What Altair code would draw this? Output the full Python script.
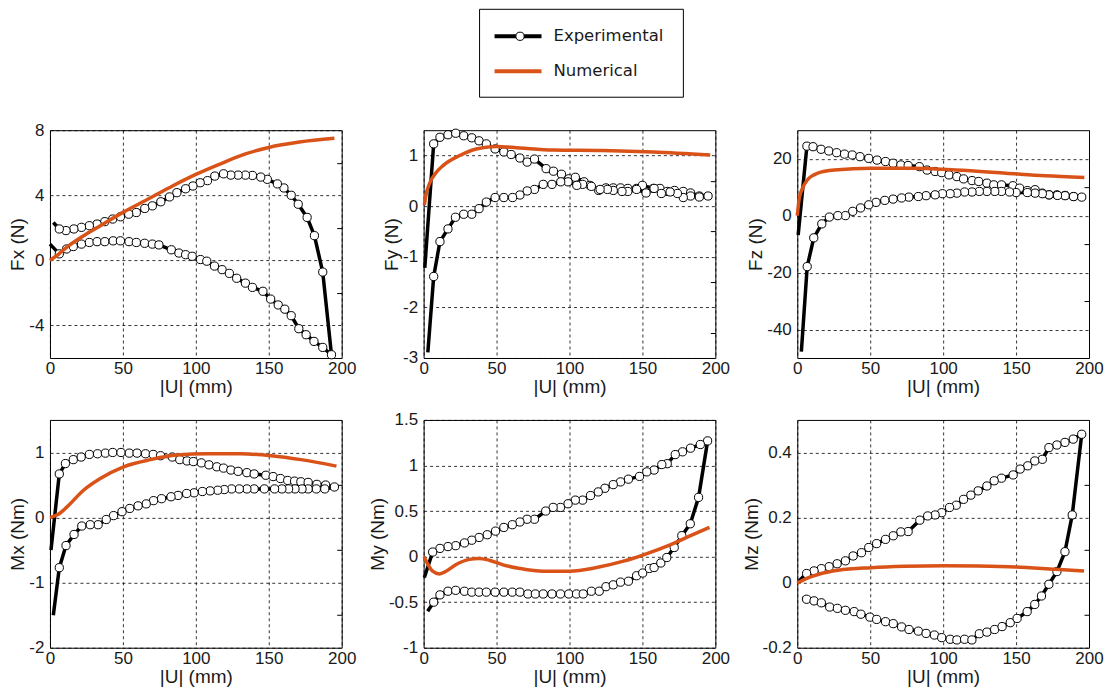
import altair as alt
import pandas as pd

X_LABEL = "|U| (mm)"
X_TICKS = [0, 50, 100, 150, 200]
SERIES = ["Experimental", "Numerical"]
COLORS = ["#000000", "#D95319"]

# ---------------- Fx ----------------
FX_OUT_START = [0.0, 1.0]
FX_OUT_X = [6.4, 11.4, 16.0, 21.6, 27.0, 32.3, 37.6, 43.3, 48.3, 54.2, 59.2, 64.9, 70.2, 74.7, 83.2, 88.4,
            93.0, 97.5, 103.2, 107.5, 112.8, 118.0, 123.0, 128.0, 134.0, 138.8, 146.0, 151.3, 156.5, 161.0,
            165.4, 170.6, 175.6, 181.0, 187.0, 193.0]
FX_OUT_Y = [0.4, 0.7, 0.85, 1.0, 1.1, 1.15, 1.15, 1.2, 1.2, 1.15, 1.1, 1.05, 1.0, 0.95, 0.65, 0.45,
            0.35, 0.25, 0.05, -0.05, -0.35, -0.57, -0.8, -1.1, -1.4, -1.66, -1.9, -2.38, -2.74, -3.0,
            -3.4, -4.2, -4.57, -4.98, -5.35, -5.8]
FX_BACK_X = [6.4, 11.0, 16.4, 21.6, 27.0, 32.3, 37.6, 43.0, 48.3, 54.0, 59.2, 65.0, 70.2, 76.0, 82.0, 87.0,
             93.0, 98.0, 103.0, 108.0, 113.0, 119.0, 124.0, 129.0, 134.0, 138.8, 144.5, 149.0, 155.9, 160.4,
             165.4, 170.2, 176.3, 181.3, 187.0]
FX_BACK_Y = [1.93, 1.83, 1.93, 2.03, 2.13, 2.23, 2.38, 2.54, 2.68, 2.84, 2.94, 3.19, 3.35, 3.6, 3.9, 4.16,
             4.4, 4.57, 4.77, 4.9, 5.18, 5.32, 5.24, 5.24, 5.24, 5.22, 5.12, 4.98, 4.7, 4.45,
             4.0, 3.45, 2.64, 1.52, -0.72]
FX_BACK_START = [2.3, 2.33]
FX_NUM_X = [0, 6.4, 11.4, 22.8, 34, 50, 68, 84, 100, 116, 134, 150, 171, 195]
FX_NUM_Y = [0, 0.42, 0.8, 1.5, 2.1, 2.95, 3.8, 4.57, 5.28, 5.9, 6.54, 6.94, 7.27, 7.5]

# ---------------- Fy ----------------
FY_OUT_START = [0.8, -1.22]
FY_OUT_X = [6.9, 11.2, 16.7, 22.0, 27.5, 33.0, 38.0, 43.0, 49.0, 55.0, 60.0, 66.0, 71.0, 76.0, 84.0, 89.0,
            94.5, 99.5, 104.0, 110.0, 114.0, 120.0, 125.0, 130.0, 135.0, 140.0, 146.0, 150.0, 157.5, 162.0,
            167.0, 172.0, 178.0, 183.0, 189.0, 195.0]
FY_OUT_Y = [1.23, 1.36, 1.41, 1.44, 1.39, 1.35, 1.29, 1.23, 1.13, 1.07, 1.02, 0.95, 0.87, 0.93, 0.74, 0.69,
            0.63, 0.54, 0.57, 0.48, 0.41, 0.31, 0.36, 0.36, 0.36, 0.35, 0.35, 0.41, 0.35, 0.35,
            0.29, 0.31, 0.29, 0.26, 0.2, 0.2]
FY_BACK_X = [6.9, 11.2, 16.7, 21.8, 27.5, 33.0, 38.0, 43.0, 49.0, 55.0, 61.0, 66.0, 71.0, 76.0, 82.0, 88.0,
             94.0, 99.0, 105.0, 109.0, 115.0, 121.0, 126.0, 130.0, 136.0, 140.0, 146.0, 152.5, 158.0, 163.0,
             169.0, 174.0, 178.0, 183.0, 189.0]
FY_BACK_Y = [-1.39, -0.7, -0.45, -0.22, -0.16, -0.16, -0.05, 0.08, 0.17, 0.17, 0.17, 0.22, 0.3, 0.33, 0.43, 0.43,
             0.48, 0.48, 0.41, 0.43, 0.39, 0.33, 0.33, 0.31, 0.29, 0.29, 0.33, 0.26, 0.35, 0.25,
             0.28, 0.25, 0.17, 0.2, 0.18]
FY_BACK_START = [2.9, -2.89]
FY_NUM_X = [0.5, 1.6, 4.1, 8.5, 13.3, 24.7, 36, 50, 66, 89, 123, 157.5, 196.5]
FY_NUM_Y = [0.02, 0.22, 0.45, 0.66, 0.8, 1.0, 1.13, 1.18, 1.15, 1.11, 1.1, 1.07, 1.01]

# ---------------- Fz ----------------
FZ_OUT_START = [0.6, -6.8]
FZ_OUT_X = [6.6, 10.8, 16.3, 21.6, 27.0, 32.4, 37.7, 43.0, 49.0, 54.7, 60.5, 65.7, 71.0, 76.0, 83.7, 89.0,
            94.5, 99.0, 104.0, 109.4, 114.0, 119.8, 124.4, 130.0, 134.7, 140.0, 147.8, 152.4, 157.7, 163.0,
            168.0, 172.6, 178.0, 183.6, 189.4, 195.0]
FZ_OUT_Y = [24.4, 24.2, 23.3, 22.7, 22.1, 21.6, 21.3, 20.7, 20.1, 19.5, 19.0, 18.4, 17.8, 17.6, 17.2, 16.0,
            15.5, 15.1, 14.3, 13.7, 12.9, 12.3, 12.0, 11.4, 10.8, 10.8, 10.5, 9.65, 8.8, 9.1,
            7.9, 7.3, 7.3, 7.1, 6.7, 6.5]
FZ_BACK_X = [6.8, 11.3, 16.8, 22.0, 27.8, 33.0, 38.0, 43.4, 49.0, 54.0, 60.0, 65.7, 71.5, 76.5, 83.0, 88.3,
             94.5, 99.5, 104.8, 109.4, 114.7, 119.8, 124.8, 130.0, 135.4, 140.0, 145.5, 150.0, 157.7, 163.0,
             168.0, 172.6, 178.4, 183.6, 189.4]
FZ_BACK_Y = [-17.9, -7.8, -2.9, -0.5, 0.0, 0.0, 1.5, 2.7, 3.8, 4.65, 5.35, 5.8, 6.2, 6.5, 6.7, 7.0,
             7.3, 7.7, 7.7, 7.9, 8.3, 8.3, 8.5, 8.5, 8.5, 8.5, 8.3, 8.1, 8.1, 7.9,
             7.7, 7.3, 7.1, 7.0, 6.7]
FZ_BACK_START = [2.8, -47.8]
FZ_NUM_X = [0, 1.4, 3.7, 7, 14, 25.5, 51, 78.6, 108.5, 143, 170, 196.8]
FZ_NUM_Y = [0, 6.2, 9.7, 12.6, 14.9, 16.0, 16.6, 16.6, 16.0, 14.9, 14.0, 13.4]

# ---------------- Mx ----------------
MX_OUT_START = [0.7, -0.5]
MX_OUT_X = [6.4, 10.6, 16.0, 21.4, 27.0, 32.6, 38.0, 43.0, 48.7, 54.4, 59.7, 65.5, 70.8, 75.8, 83.9, 89.0,
            94.0, 98.3, 103.8, 109.0, 114.4, 119.0, 124.0, 129.0, 135.0, 140.0, 148.0, 153.0, 158.0, 163.0,
            167.7, 172.0, 177.0, 183.0, 189.0, 195.0]
MX_OUT_Y = [0.67, 0.83, 0.89, 0.93, 0.97, 0.98, 0.99, 1.0, 1.0, 0.99, 0.99, 0.98, 0.97, 0.95, 0.93, 0.89,
            0.87, 0.86, 0.84, 0.81, 0.78, 0.76, 0.73, 0.71, 0.69, 0.67, 0.65, 0.63, 0.6, 0.57,
            0.56, 0.55, 0.54, 0.51, 0.5, 0.47]
MX_BACK_X = [6.4, 11.0, 16.5, 21.8, 27.6, 33.0, 38.6, 43.6, 49.4, 54.7, 60.4, 66.0, 71.0, 76.5, 83.0, 87.8,
             93.7, 98.8, 104.5, 109.8, 115.0, 119.5, 124.5, 129.8, 135.0, 140.0, 147.0, 154.0, 159.0, 163.6,
             168.0, 172.8, 177.0, 182.6, 188.4]
MX_BACK_Y = [-0.77, -0.43, -0.26, -0.13, -0.11, -0.11, -0.03, 0.03, 0.09, 0.14, 0.18, 0.21, 0.26, 0.29, 0.32, 0.34,
             0.37, 0.38, 0.4, 0.41, 0.42, 0.43, 0.44, 0.44, 0.44, 0.44, 0.44, 0.44, 0.44, 0.44,
             0.44, 0.44, 0.44, 0.44, 0.44]
MX_BACK_START = [2.3, -1.5]
MX_NUM_X = [0, 5.7, 11.5, 23, 34.5, 50.5, 69, 87, 108, 131, 151.6, 172, 196.4]
MX_NUM_Y = [0, 0.05, 0.16, 0.42, 0.6, 0.78, 0.89, 0.96, 0.98, 0.98, 0.95, 0.89, 0.79]

# ---------------- My ----------------
MY_OUT_START = [2.75, -0.6]
MY_OUT_X = [6.9, 11.2, 16.7, 22.0, 28.0, 33.0, 38.0, 43.0, 49.0, 55.0, 60.8, 66.0, 71.5, 76.6, 82.0, 88.0,
            93.8, 99.5, 104.8, 109.4, 115.0, 120.4, 125.0, 130.0, 135.0, 140.4, 146.0, 150.2, 154.8, 158.0,
            162.6, 166.7, 171.8, 177.0, 182.8, 188.5]
MY_OUT_Y = [-0.5, -0.42, -0.38, -0.37, -0.38, -0.39, -0.39, -0.39, -0.39, -0.39, -0.39, -0.39, -0.41, -0.41,
            -0.41, -0.41, -0.41, -0.41, -0.41, -0.41, -0.38, -0.38, -0.33, -0.31, -0.28, -0.27, -0.21, -0.18,
            -0.13, -0.12, -0.07, -0.01, 0.1, 0.23, 0.36, 0.65]
MY_BACK_X = [6.2, 11.2, 16.7, 22.0, 28.0, 33.0, 38.0, 43.6, 49.3, 55.0, 60.8, 66.0, 70.9, 76.0, 83.7, 88.8,
             93.8, 99.0, 104.0, 109.0, 114.4, 119.7, 124.3, 130.0, 135.0, 140.4, 148.0, 153.0, 158.0, 163.3,
             167.0, 172.5, 177.5, 183.0, 189.7, 194.7]
MY_BACK_Y = [0.05, 0.09, 0.11, 0.12, 0.15, 0.18, 0.21, 0.24, 0.28, 0.32, 0.35, 0.38, 0.41, 0.41, 0.5, 0.54,
             0.54, 0.58, 0.62, 0.62, 0.67, 0.71, 0.75, 0.79, 0.82, 0.85, 0.88, 0.93, 0.95, 1.01,
             1.02, 1.12, 1.15, 1.19, 1.23, 1.27]
MY_BACK_START = [0.5, -0.23]
MY_NUM_X = [0.3, 2.75, 6.2, 10.8, 15.4, 22, 31.4, 38, 45, 54.4, 66, 82, 100, 118.6, 137, 150.7, 169, 183, 196]
MY_NUM_Y = [0, -0.08, -0.16, -0.19, -0.16, -0.09, -0.03, -0.02, -0.04, -0.09, -0.13, -0.16, -0.16, -0.12,
            -0.05, 0.02, 0.13, 0.23, 0.32]

# ---------------- Mz ----------------
MZ_OUT_START = [3.4, -0.046]
MZ_OUT_X = [6.4, 11.5, 16.5, 22.2, 27.5, 33.0, 39.0, 43.6, 49.8, 54.4, 60.5, 65.8, 71.5, 76.6, 83.0, 88.3,
            94.0, 99.0, 104.8, 109.4, 114.7, 119.7, 124.8, 130.0, 135.3, 140.4, 146.0, 150.7, 157.6, 162.8,
            167.4, 172.5, 178.0, 183.5, 188.5]
MZ_OUT_Y = [-0.051, -0.056, -0.062, -0.075, -0.079, -0.085, -0.089, -0.097, -0.106, -0.113, -0.12, -0.126,
            -0.136, -0.144, -0.149, -0.156, -0.161, -0.169, -0.174, -0.176, -0.174, -0.176, -0.157, -0.152,
            -0.144, -0.135, -0.123, -0.11, -0.089, -0.067, -0.041, -0.005, 0.034, 0.095, 0.208]
MZ_BACK_X = [6.4, 11.5, 16.5, 21.8, 27.3, 33.0, 38.3, 44.0, 49.0, 54.4, 60.5, 65.8, 71.0, 76.0, 84.0, 89.4,
             94.5, 99.0, 104.4, 109.0, 114.0, 119.0, 124.0, 130.0, 135.0, 140.0, 148.0, 152.8, 158.0, 162.8,
             168.0, 172.5, 178.0, 183.5, 189.2, 195.0]
MZ_BACK_Y = [0.028, 0.036, 0.043, 0.049, 0.058, 0.067, 0.082, 0.092, 0.108, 0.12, 0.133, 0.144, 0.156, 0.157,
             0.192, 0.205, 0.208, 0.215, 0.231, 0.238, 0.256, 0.269, 0.282, 0.297, 0.313, 0.321, 0.331, 0.349,
             0.359, 0.374, 0.379, 0.415, 0.423, 0.431, 0.441, 0.456]
MZ_BACK_START = [1.1, 0.005]
MZ_NUM_X = [0, 5, 16.5, 28, 51, 74, 100, 124, 150, 177, 196.6]
MZ_NUM_Y = [-0.002, 0.01, 0.028, 0.038, 0.046, 0.05, 0.052, 0.051, 0.048, 0.041, 0.036]

FONT = "Liberation Sans"
TEXT_COLOR = "#1a1a1a"


def build_exp(out_start, out_x, out_y, back_x, back_y, back_start):
    xs = [out_start[0]] + list(out_x) + list(back_x)[::-1] + [back_start[0]]
    ys = [out_start[1]] + list(out_y) + list(back_y)[::-1] + [back_start[1]]
    mk = [False] + [True] * (len(out_x) + len(back_x)) + [False]
    return pd.DataFrame({"x": xs, "y": ys, "order": list(range(len(xs))), "marker": mk})


def panel(ytitle, dom, vals, minor, exp_df, num_x, num_y):
    xenc = alt.X("x:Q", scale=alt.Scale(domain=[0, 200], nice=False, zero=False),
                 axis=alt.Axis(values=X_TICKS, title=X_LABEL))
    yscale = alt.Scale(domain=dom, nice=False, zero=False)
    ymain = alt.Y("y:Q", scale=yscale,
                  axis=alt.Axis(values=vals, title=ytitle, labelExpr="toString(datum.value)"))
    yminor = alt.Y("y:Q", scale=yscale,
                   axis=alt.Axis(values=minor if minor else [dom[0]], title="", labels=False, grid=False,
                                 ticks=bool(minor), tickSize=5, tickColor="black", tickWidth=1,
                                 offset=-5, domain=False))
    ynone = alt.Y("y:Q", scale=yscale, axis=None)

    base = alt.Chart(exp_df)
    line = base.mark_line(color="black", strokeWidth=3.5, strokeJoin="round").encode(
        x=xenc, y=ymain, order="order:Q")
    pts = base.transform_filter("datum.marker").mark_circle(
        fill="white", stroke="black", strokeWidth=1, size=68, opacity=1, fillOpacity=1
    ).encode(x=xenc, y=ynone)
    num = alt.Chart(pd.DataFrame({"x": num_x, "y": num_y})).mark_line(
        color=COLORS[1], strokeWidth=3.5, interpolate="monotone"
    ).encode(x=xenc, y=yminor)
    return alt.layer(line, pts, num).resolve_axis(y="independent").properties(width=292, height=228)


p_fx = panel("Fx (N)", [-6, 8], [-4, 0, 4, 8], [-2, 2, 6],
             build_exp(FX_OUT_START, FX_OUT_X, FX_OUT_Y, FX_BACK_X, FX_BACK_Y, FX_BACK_START),
             FX_NUM_X, FX_NUM_Y)
p_fy = panel("Fy (N)", [-3, 1.5], [-3, -2, -1, 0, 1], [-2.5, -1.5, -0.5, 0.5],
             build_exp(FY_OUT_START, FY_OUT_X, FY_OUT_Y, FY_BACK_X, FY_BACK_Y, FY_BACK_START),
             FY_NUM_X, FY_NUM_Y)
p_fz = panel("Fz (N)", [-50, 30], [-40, -20, 0, 20], [-30, -10, 10],
             build_exp(FZ_OUT_START, FZ_OUT_X, FZ_OUT_Y, FZ_BACK_X, FZ_BACK_Y, FZ_BACK_START),
             FZ_NUM_X, FZ_NUM_Y)
p_mx = panel("Mx (Nm)", [-2, 1.5], [-2, -1, 0, 1], [-1.5, -0.5, 0.5],
             build_exp(MX_OUT_START, MX_OUT_X, MX_OUT_Y, MX_BACK_X, MX_BACK_Y, MX_BACK_START),
             MX_NUM_X, MX_NUM_Y)
p_my = panel("My (Nm)", [-1, 1.5], [-1, -0.5, 0, 0.5, 1, 1.5], [],
             build_exp(MY_OUT_START, MY_OUT_X, MY_OUT_Y, MY_BACK_X, MY_BACK_Y, MY_BACK_START),
             MY_NUM_X, MY_NUM_Y)
p_mz = panel("Mz (Nm)", [-0.2, 0.5], [-0.2, 0, 0.2, 0.4], [-0.1, 0.1, 0.3],
             build_exp(MZ_OUT_START, MZ_OUT_X, MZ_OUT_Y, MZ_BACK_X, MZ_BACK_Y, MZ_BACK_START),
             MZ_NUM_X, MZ_NUM_Y)

# ---------------- legend (box at page x 479..683) ----------------
LEG_LEFT = 430
leg_df = pd.DataFrame({"series": SERIES})
ly = alt.Y("series:N", scale=alt.Scale(type="point", domain=SERIES, range=[27, 62], padding=0), axis=None)
lcolor = alt.Color("series:N", scale=alt.Scale(domain=SERIES, range=COLORS), legend=None)
box = alt.Chart(pd.DataFrame({"k": [0]})).mark_rect(fillOpacity=0, stroke="black", strokeWidth=1).encode(
    x=alt.value(LEG_LEFT), x2=alt.value(LEG_LEFT + 204), y=alt.value(0), y2=alt.value(88))
seg = alt.Chart(leg_df).mark_rule(strokeWidth=4).encode(
    x=alt.value(LEG_LEFT + 15), x2=alt.value(LEG_LEFT + 62), y=ly, color=lcolor)
dot = alt.Chart(leg_df).transform_filter("datum.series == 'Experimental'").mark_circle(
    fill="white", stroke="black", strokeWidth=1, size=68, opacity=1).encode(x=alt.value(LEG_LEFT + 40.5), y=ly)
txt = alt.Chart(leg_df).mark_text(align="left", baseline="middle", font="DejaVu Sans", fontSize=16.5,
                                  color=TEXT_COLOR).encode(x=alt.value(LEG_LEFT + 74), y=ly, text="series:N")
legend = alt.layer(box, seg, dot, txt).properties(
    width=LEG_LEFT + 210, height=88, view=alt.ViewBackground(stroke="transparent"))

grid = alt.concat(p_fx, p_fy, p_fz, p_mx, p_my, p_mz, columns=3,
                  spacing={"row": 62, "column": 82}, bounds="flush")

chart = alt.vconcat(legend, grid, spacing=22).properties(
    padding={"left": 0, "top": 0, "right": 0, "bottom": 0}
).configure_view(
    stroke="black", strokeWidth=1
).configure_axis(
    labelFont=FONT, titleFont=FONT, labelFontSize=17, titleFontSize=19, titleFontWeight="normal",
    labelColor=TEXT_COLOR, titleColor=TEXT_COLOR,
    gridColor="black", gridDash=[3, 3], gridWidth=0.8, gridOpacity=1,
    ticks=False, domain=False, labelFlush=False, labelOverlap=False
).configure_axisX(
    labelPadding=3, titlePadding=1
).configure_axisY(
    labelPadding=6, titlePadding=1
)

chart.save("out.html", embed_options={"renderer": "svg", "actions": False})
